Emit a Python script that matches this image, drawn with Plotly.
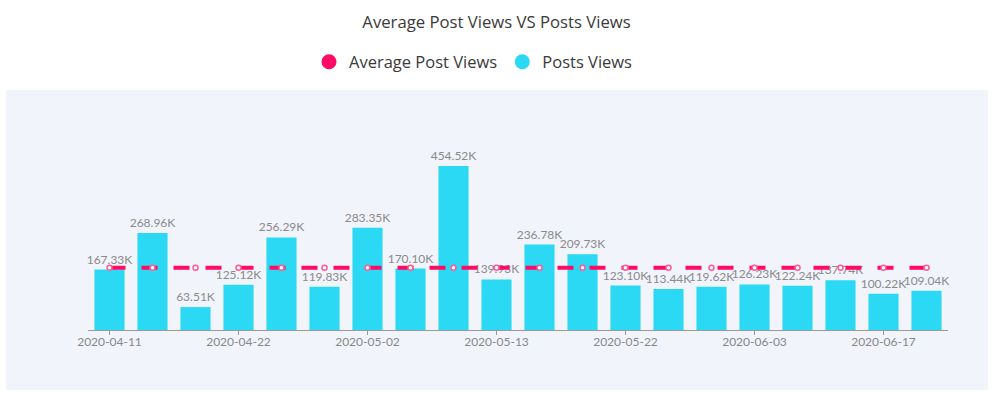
import plotly.graph_objects as go

dates = ["2020-04-11", "2020-04-15", "2020-04-18", "2020-04-22", "2020-04-25",
         "2020-04-29", "2020-05-02", "2020-05-06", "2020-05-09", "2020-05-13",
         "2020-05-16", "2020-05-19", "2020-05-22", "2020-05-26", "2020-05-30",
         "2020-06-03", "2020-06-07", "2020-06-12", "2020-06-17", "2020-06-21"]
post_views = [167.33, 268.96, 63.51, 125.12, 256.29, 119.83, 283.35, 170.10, 454.52, 139.93,
              236.78, 209.73, 123.10, 113.44, 119.62, 126.23, 122.24, 137.74, 100.22, 109.04]
avg_value = round(sum(post_views) / len(post_views), 2)
avg_views = [avg_value] * len(dates)
tick_dates = dates[::3]

FONT = "Lato"
FONT_BIG = "Open Sans"
BAR_C = "#2bd9f4"
LINE_C = "#ff0a64"
BG = "#f1f4fb"

fig = go.Figure()
fig.add_trace(go.Bar(
    x=dates, y=post_views, marker=dict(color=BAR_C, line=dict(width=0)),
    text=[f"{v:.2f}K" for v in post_views], textposition="outside",
    constraintext="none",
    textfont=dict(color="#8a8a8a", size=12, family=FONT), cliponaxis=False,
    showlegend=False, name="Posts Views"))
fig.add_trace(go.Scatter(
    x=dates, y=avg_views, mode="lines+markers",
    line=dict(color=LINE_C, width=4, dash="16px,16px"),
    marker=dict(symbol="circle", size=5, color="white", line=dict(color="#ff5a94", width=1.5)),
    showlegend=False, name="Average Post Views"))
# legend entries
fig.add_trace(go.Scatter(x=[None], y=[None], mode="markers", name="Average Post Views",
                         marker=dict(color=LINE_C, size=15, symbol="circle")))
fig.add_trace(go.Scatter(x=[None], y=[None], mode="markers", name="Posts Views",
                         marker=dict(color=BAR_C, size=15, symbol="circle")))

L, R, T, B = 88, 45, 130, 67
W, H = 993, 397
pw, ph = W - L - R, H - T - B
fig.add_shape(type="rect", xref="paper", yref="paper",
              x0=(6 - L) / pw, x1=(988 - L) / pw,
              y0=(H - B - 390) / ph, y1=(H - B - 90) / ph,
              fillcolor=BG, line=dict(width=0), layer="below")

fig.update_layout(
    width=W, height=H,
    margin=dict(l=L, r=R, t=T, b=B),
    paper_bgcolor="white", plot_bgcolor=BG,
    font=dict(family=FONT, color="#333"),
    title=dict(text="Average Post Views VS Posts Views", x=0.5, xanchor="center",
               y=1 - 22 / H, yanchor="middle", font=dict(size=16.7, color="#3a3a3a", family=FONT_BIG)),
    legend=dict(orientation="h", xref="container", yref="container",
                x=(350 - 41) / W, xanchor="left", y=1 - 62 / H, yanchor="middle",
                font=dict(size=16.5, color="#3a3a3a", family=FONT_BIG), itemsizing="trace",
                bgcolor="rgba(0,0,0,0)"),
    bargap=0.3,
    xaxis=dict(type="category", tickvals=tick_dates, ticks="outside", ticklen=4,
               tickcolor="#999", showline=True, linecolor="#999", linewidth=1,
               showgrid=False, tickfont=dict(size=12, color="#888", family=FONT),
               ticklabelstandoff=-3,
               range=[-0.5, len(dates) - 0.5]),
    yaxis=dict(range=[0, 554], visible=False, showgrid=False, zeroline=False),
)

fig.write_html("out.html", config={"displayModeBar": False},
               post_script="document.body.style.margin='0';")
